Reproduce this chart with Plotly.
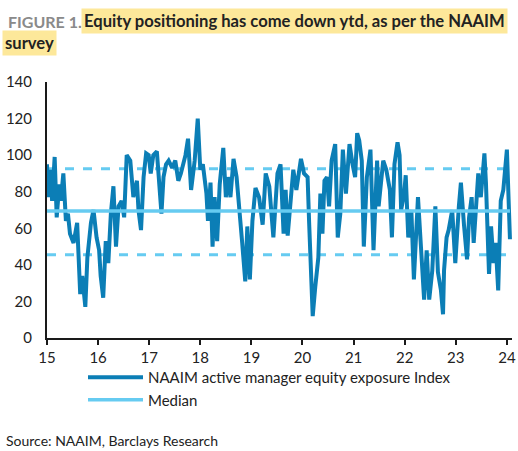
import plotly.graph_objects as go

# ---- data ----
years = [15.00, 15.02, 15.05, 15.07, 15.10, 15.15, 15.19, 15.24, 15.27, 15.32, 15.37, 15.41, 15.45,
         15.52, 15.59, 15.65, 15.69, 15.75, 15.79, 15.86, 15.91, 15.97, 16.02, 16.05, 16.10, 16.15,
         16.20, 16.25, 16.30, 16.35, 16.40, 16.46, 16.51, 16.56, 16.63, 16.69, 16.76, 16.79, 16.84,
         16.89, 16.94, 16.99, 17.03, 17.08, 17.15, 17.20, 17.24, 17.28, 17.33, 17.38, 17.45, 17.51,
         17.57, 17.62, 17.66, 17.71, 17.76, 17.82, 17.89, 17.95, 18.00, 18.05, 18.12, 18.15, 18.20,
         18.24, 18.28, 18.33, 18.38, 18.45, 18.50, 18.54, 18.59, 18.65, 18.71, 18.77, 18.82, 18.88,
         18.92, 18.97, 19.02, 19.08, 19.15, 19.22, 19.28, 19.35, 19.43, 19.51, 19.57, 19.63, 19.67,
         19.71, 19.77, 19.82, 19.88, 19.97, 20.03, 20.10, 20.13, 20.18, 20.20, 20.25, 20.31, 20.35,
         20.39, 20.43, 20.48, 20.52, 20.57, 20.64, 20.69, 20.74, 20.79, 20.85, 20.92, 20.98, 21.03,
         21.07, 21.11, 21.16, 21.20, 21.26, 21.33, 21.39, 21.46, 21.49, 21.58, 21.64, 21.71, 21.75,
         21.80, 21.86, 21.90, 21.93, 21.99, 22.02, 22.07, 22.13, 22.18, 22.26, 22.33, 22.38, 22.43,
         22.48, 22.54, 22.60, 22.65, 22.71, 22.75, 22.77, 22.82, 22.86, 22.93, 22.99, 23.06, 23.10,
         23.16, 23.22, 23.26, 23.31, 23.35, 23.39, 23.44, 23.49, 23.56, 23.59, 23.65, 23.69, 23.74,
         23.78, 23.83, 23.88, 23.93, 24.00, 24.03, 24.06]
exposure = [95, 77, 88, 92, 75, 99, 66, 84, 75, 90, 64, 68, 57,
            52, 63, 24, 34, 17, 44, 63, 70, 55, 48, 34, 22, 53,
            41, 68, 83, 50, 72, 75, 66, 100, 97, 77, 86, 70, 59,
            88, 101, 100, 90, 100, 102, 81, 68, 88, 95, 97, 93, 97,
            86, 90, 95, 100, 109, 81, 97, 120, 92, 95, 79, 64, 85,
            50, 77, 53, 84, 104, 77, 88, 77, 98, 88, 70, 52, 31,
            61, 32, 64, 82, 77, 62, 90, 83, 55, 90, 95, 57, 81,
            56, 77, 92, 81, 98, 90, 88, 63, 20, 12, 28, 44, 79,
            57, 86, 88, 72, 97, 106, 55, 68, 103, 79, 106, 95, 88,
            112, 108, 97, 50, 88, 103, 48, 97, 72, 97, 92, 81, 55,
            95, 107, 100, 70, 79, 89, 55, 70, 32, 77, 46, 21, 48,
            21, 37, 72, 36, 26, 13, 37, 55, 59, 70, 41, 72, 85,
            62, 43, 66, 77, 52, 66, 90, 77, 101, 85, 35, 61, 41,
            52, 26, 75, 81, 103, 79, 54]
median_value = 69.4
upper_band = 92.5
lower_band = 45.5
x_ticks = [15, 16, 17, 18, 19, 20, 21, 22, 23, 24]
y_ticks = [0, 20, 40, 60, 80, 100, 120, 140]

DARK = "#0B7EB6"
LIGHT = "#66CBF1"
FONT = "Lato"

W, H = 518, 451
L, R, T, B = 47, 6, 82, 113
PW, PH = W - L - R, H - T - B


def px(xp):
    return (xp - L) / PW


def py(yp):
    return (H - B - yp) / PH


span = [years[0], years[-1]]

fig = go.Figure()
fig.add_trace(go.Scatter(x=span, y=[upper_band] * 2, mode="lines",
                         line=dict(color=LIGHT, width=3, dash="dash"), showlegend=False, hoverinfo="skip"))
fig.add_trace(go.Scatter(x=span, y=[lower_band] * 2, mode="lines",
                         line=dict(color=LIGHT, width=3, dash="dash"), showlegend=False, hoverinfo="skip"))
fig.add_trace(go.Scatter(x=years, y=exposure, mode="lines",
                         name="NAAIM active manager equity exposure Index",
                         line=dict(color=DARK, width=4)))
fig.add_trace(go.Scatter(x=span, y=[median_value] * 2, mode="lines", name="Median",
                         line=dict(color=LIGHT, width=3.5)))

fig.update_layout(
    width=W, height=H,
    margin=dict(l=L, r=R, t=T, b=B, pad=0, autoexpand=False),
    paper_bgcolor="white", plot_bgcolor="white",
    font=dict(family=FONT, size=15, color="#222222"),
    showlegend=True,
    legend=dict(x=px(83), y=py(361), xanchor="left", yanchor="top",
                orientation="v", font=dict(size=15, color="#222222"),
                itemwidth=55, tracegroupgap=0, bgcolor="rgba(0,0,0,0)"),
    xaxis=dict(range=[15, 24.1], tickvals=x_ticks, ticktext=[str(v) for v in x_ticks],
               showgrid=False, zeroline=False, showline=True, linecolor="#1a1a1a", linewidth=2,
               ticks="outside", ticklen=5, tickwidth=2, tickcolor="#1a1a1a",
               tickfont=dict(size=15), automargin=False),
    yaxis=dict(range=[0, 140], tickvals=y_ticks, showgrid=False, zeroline=False,
               showline=True, linecolor="#1a1a1a", linewidth=2, ticks="",
               ticklabelstandoff=10, tickfont=dict(size=15), automargin=False),
    annotations=[
        dict(xref="paper", yref="paper", x=px(6), y=py(21), xanchor="left", yanchor="middle",
             text="<b>FIGURE 1.</b>", showarrow=False, font=dict(size=16, color="#8a8a8a")),
        dict(xref="paper", yref="paper", x=px(81), y=py(21), xanchor="left", yanchor="middle",
             text="<b>Equity positioning has come down ytd, as per the NAAIM</b>", showarrow=False,
             font=dict(size=16.6, color="#222222"), bgcolor="#FDE89A", borderpad=2),
        dict(xref="paper", yref="paper", x=px(2), y=py(43), xanchor="left", yanchor="middle",
             text="<b>survey</b>", showarrow=False,
             font=dict(size=16.6, color="#222222"), bgcolor="#FDE89A", borderpad=2),
        dict(xref="paper", yref="paper", x=px(4), y=py(440), xanchor="left", yanchor="middle",
             text="Source: NAAIM, Barclays Research", showarrow=False,
             font=dict(size=14, color="#222222")),
    ],
)

fig.write_html("out.html", config={"displayModeBar": False},
               post_script="document.body.style.margin='0';document.body.style.overflow='hidden';")
